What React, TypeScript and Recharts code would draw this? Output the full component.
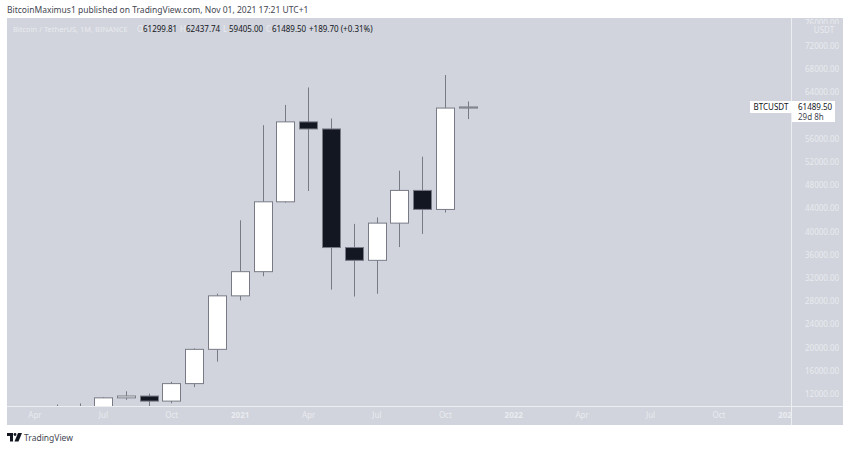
import { Bar, ComposedChart, XAxis, YAxis } from 'recharts';

const WIDTH = 850;
const HEIGHT = 449;
const FONT = '"Noto Sans", sans-serif';
const PANEL = '#d1d4dc';
const LIGHT_TEXT = '#e9ebf0';
const DARK_TEXT = '#131722';
const WICK = '#787b86';

// monthly candles, May 2020 to Nov 2021 (index 0 on the axis is Apr 2020)
const months = [1, 2, 3, 4, 5, 6, 7, 8, 9, 10, 11, 12, 13, 14, 15, 16, 17, 18, 19];
const opens = [8620, 9448, 9138, 11335, 11649, 10776, 13791, 19700, 28923, 33092, 45137, 58918, 57697, 37253, 35045, 41461, 47100, 43820, 61299.81];
const highs = [10180, 10380, 11444, 12468, 12050, 14100, 19863, 29300, 41950, 58352, 61844, 64854, 59500, 41330, 42448, 50500, 52920, 66999, 62437.74];
const lows = [8117, 8833, 8900, 11000, 9825, 10400, 13195, 17572, 28130, 32296, 45000, 47000, 30000, 28805, 29278, 37332, 39600, 43283, 59405];
const closes = [9448, 9138, 11335, 11649, 10776, 13791, 19700, 28923, 33092, 45137, 58918, 57697, 37253, 35045, 41461, 47100, 43824, 61299.81, 61489.5];

const xTicks = [0, 3, 6, 9, 12, 15, 18, 21, 24, 27, 30, 33];
const xLabels = ['Apr', 'Jul', 'Oct', '2021', 'Apr', 'Jul', 'Oct', '2022', 'Apr', 'Jul', 'Oct', '2023'];
// 60000 sits under the last price box, so it is left out
const yTicks = [12000, 16000, 20000, 24000, 28000, 32000, 36000, 40000, 44000, 48000, 52000, 56000, 64000, 68000, 72000, 76000];

const data = months.map((month, i) => ({
  month,
  open: opens[i],
  high: highs[i],
  low: lows[i],
  close: closes[i],
  range: [lows[i], highs[i]],
}));

function Candle(props: any) {
  const { x, y, width, height, payload } = props;
  const { open, close, high, low } = payload;
  const perUnit = height / (high - low);
  const top = y + (high - Math.max(open, close)) * perUnit;
  const bodyHeight = Math.max(Math.abs(close - open) * perUnit, 1);
  const mid = Math.round(x + width / 2) + 0.5;
  return (
    <g>
      <line x1={mid} x2={mid} y1={y} y2={y + height} stroke={WICK} strokeWidth={1} />
      <rect
        x={mid - width / 2}
        y={top}
        width={width}
        height={bodyHeight}
        fill={close >= open ? '#ffffff' : DARK_TEXT}
        stroke={WICK}
        strokeWidth={1}
      />
    </g>
  );
}

function XTick(props: any) {
  const { x, y, payload } = props;
  const label = xLabels[xTicks.indexOf(payload.value)];
  return (
    <text
      x={x}
      y={y + 4}
      textAnchor="middle"
      fontFamily={FONT}
      fontSize={8}
      fontWeight={/^\d/.test(label) ? 700 : 400}
      fill={LIGHT_TEXT}
      clipPath="url(#time-scale-clip)"
    >
      {label}
    </text>
  );
}

function YTick(props: any) {
  const { x, y, payload } = props;
  const isTop = payload.value === yTicks[yTicks.length - 1];
  return (
    <g>
      <text
        x={x + 6}
        y={y + 3}
        fontFamily={FONT}
        fontSize={8}
        fill={LIGHT_TEXT}
        clipPath={isTop ? 'url(#price-top-clip)' : undefined}
      >
        {payload.value.toFixed(2)}
      </text>
      {isTop && (
        <text x={x + 25} y={y + 10} textAnchor="middle" fontFamily={FONT} fontSize={8} fill={LIGHT_TEXT}>
          USDT
        </text>
      )}
    </g>
  );
}

function Logo() {
  return (
    <svg width={15} height={9} viewBox="0 0 15 9" style={{ position: 'absolute', left: 7, top: 433 }}>
      <path d="M0 0H6V8.5H3V3H0Z" fill="#131722" />
      <circle cx="8" cy="1.5" r="1.4" fill="#131722" />
      <path d="M11 0H15L11.5 8.5H7.5Z" fill="#131722" />
    </svg>
  );
}

const ohlc = [
  ['O', '61299.81'],
  ['H', '62437.74'],
  ['L', '59405.00'],
  ['C', '61489.50'],
];

export default function App() {
  const abs = { position: 'absolute' as const };
  return (
    <div style={{ ...abs, left: 0, top: 0, width: WIDTH, height: HEIGHT, background: '#fff', fontFamily: FONT, overflow: 'hidden' }}>
      <div style={{ ...abs, left: 7, top: 4, fontSize: 8.5, lineHeight: '12px', color: '#434651', whiteSpace: 'nowrap' }}>
        BitcoinMaximus1 published on TradingView.com, Nov 01, 2021 17:21 UTC+1
      </div>

      <div style={{ ...abs, left: 7, top: 18, width: 836, height: 407, background: PANEL }} />
      <div style={{ ...abs, left: 791, top: 18, width: 1, height: 407, background: '#eceef2' }} />
      <div style={{ ...abs, left: 7, top: 406, width: 836, height: 1, background: '#eceef2' }} />

      <div style={{ ...abs, left: 0, top: 0 }}>
        <ComposedChart
          width={WIDTH}
          height={HEIGHT}
          data={data}
          margin={{ top: 18, right: 7, bottom: 24, left: 7 }}
        >
          <defs>
            <clipPath id="time-scale-clip">
              <rect x={7} y={406} width={784} height={19} />
            </clipPath>
            <clipPath id="price-top-clip">
              <rect x={792} y={18} width={51} height={6} />
            </clipPath>
          </defs>
          <XAxis
            type="number"
            dataKey="month"
            domain={[-1.228, 33.16]}
            allowDataOverflow
            ticks={xTicks}
            interval={0}
            height={19}
            axisLine={false}
            tickLine={false}
            tick={<XTick />}
          />
          <YAxis
            orientation="right"
            domain={[9931, 76828]}
            allowDataOverflow
            ticks={yTicks}
            interval={0}
            width={52}
            axisLine={false}
            tickLine={false}
            tick={<YTick />}
          />
          <Bar dataKey="range" barSize={18} shape={<Candle />} isAnimationActive={false} />
        </ComposedChart>
      </div>

      <div style={{ ...abs, left: 13, top: 23, fontSize: 8, lineHeight: '12px', color: DARK_TEXT, whiteSpace: 'nowrap' }}>
        <span style={{ display: 'inline-block', width: 124, fontSize: 7.5, color: LIGHT_TEXT }}>Bitcoin / TetherUS, 1M, BINANCE</span>
        {ohlc.map(([k, v]) => (
          <span key={k} style={{ display: 'inline-block', width: 43 }}>
            <span style={{ display: 'inline-block', width: 6, color: LIGHT_TEXT }}>{k}</span>
            {v}
          </span>
        ))}
        <span>+189.70 (+0.31%)</span>
      </div>

      <div style={{ ...abs, left: 750, top: 101, width: 42, height: 12, background: '#fff', fontSize: 8, lineHeight: '12px', color: DARK_TEXT, textAlign: 'center' }}>
        BTCUSDT
      </div>
      <div style={{ ...abs, left: 792, top: 101, width: 43, height: 21, background: '#fff', fontSize: 8, lineHeight: '10px', color: DARK_TEXT, paddingLeft: 6, boxSizing: 'border-box', paddingTop: 1 }}>
        <div>61489.50</div>
        <div style={{ color: '#434651' }}>29d 8h</div>
      </div>

      <Logo />
      <div style={{ ...abs, left: 24, top: 431, fontSize: 8.5, lineHeight: '13px', color: '#434651' }}>TradingView</div>
    </div>
  );
}
